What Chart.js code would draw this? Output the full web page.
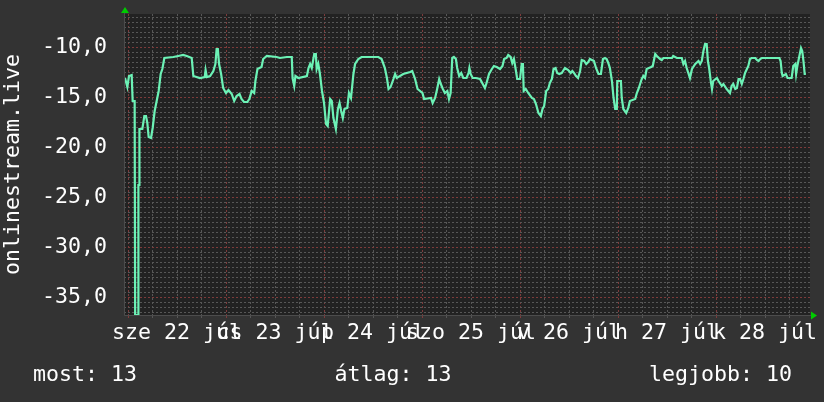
<!DOCTYPE html>
<html>
<head>
<meta charset="utf-8">
<script src="https://cdn.jsdelivr.net/npm/chart.js@4.4.1/dist/chart.umd.min.js"></script>
<style>
  html, body { margin: 0; padding: 0; background: #333333; }
  #wrap { position: relative; width: 824px; height: 402px; overflow: hidden; }
  #c { position: absolute; left: 0; top: 0; }
  #legend {
    position: absolute; left: 33px; right: 32px; top: 363px;
    display: flex; justify-content: space-between;
    font-family: "DejaVu Sans Mono", monospace; font-size: 21.6px; line-height: 22px;
    color: #ffffff; white-space: pre;
  }
</style>
</head>
<body>
<div id="wrap">
  <canvas id="c" width="824" height="402"></canvas>
  <div id="legend"><span id="l1"></span><span id="l2"></span><span id="l3"></span></div>
</div>
<script>
// ---- data (hours since 22 Jul 00:00, value) ----
const hours = [
-0.73,-0.16,0.24,0.90,1.14,1.63,1.75,2.45,2.55,2.75,2.8,3.51,4.0,4.41,4.73,5.06,5.63,6.04,6.53,7.02,7.51,8.0,8.41,8.9,11.1,12.3,13.5,14.4,15.6,16.0,17.6,18.8,19.0,19.3,20.1,20.9,21.4,21.7,22.0,22.3,22.8,23.3,24.0,24.6,25.4,26.0,26.6,27.3,27.8,28.4,29.2,29.7,30.3,30.9,31.2,31.7,32.7,33.1,34.0,36.4,37.2,38.9,40.1,40.3,40.7,41.0,41.7,43.8,44.2,44.6,45.0,45.6,46.0,46.2,46.6,47.0,47.5,48.0,48.5,48.9,49.5,49.9,50.3,50.9,51.4,51.8,52.2,52.6,53.0,53.7,54.1,54.6,55.2,55.6,56.4,57.2,61.3,62.1,62.9,63.4,63.8,64.3,65.0,65.4,65.8,67.4,69.1,69.6,70.3,70.9,72.1,72.5,74.2,74.6,75.2,75.7,76.2,76.6,77.1,77.6,78.2,78.6,79.0,79.4,79.8,80.3,80.6,81.1,81.6,82.1,82.9,83.4,83.6,83.9,84.4,85.2,86.2,87.4,87.8,88.4,89.1,89.6,90.3,91.1,91.7,92.1,92.7,93.1,93.7,94.1,94.5,95.0,95.3,96.0,96.4,96.7,96.9,97.4,98.0,98.9,99.4,99.9,100.5,101.1,101.5,101.9,102.4,102.9,103.3,103.8,104.2,104.7,105.1,105.6,106.2,107.0,107.8,108.4,108.8,109.2,109.7,110.2,110.7,111.1,111.7,112.2,112.7,113.1,114.1,114.6,115.2,115.8,116.3,116.8,117.2,117.6,118.0,118.5,118.9,119.3,119.7,119.8,120.7,120.9,121.3,122.0,122.5,122.9,124.2,124.6,125.0,125.4,125.8,126.2,126.6,127.0,128.1,128.5,129.1,129.5,130.3,130.7,131.1,133.2,133.5,134.4,135.6,136.0,136.4,136.8,137.2,137.6,138.1,138.9,139.7,140.1,140.5,140.9,141.3,141.7,142.0,142.3,142.7,143.0,143.3,144.2,144.6,145.4,145.8,146.6,147.4,147.8,148.2,148.7,149.1,149.5,149.9,150.3,150.7,151.1,151.9,152.3,152.7,153.6,154.0,154.4,154.8,155.2,159.5,159.8,160.1,160.3,161.1,161.5,162.5,162.9,163.4,163.6,163.9,164.4,164.8,165.1,165.4,165.7,166.0
];
const values = [
-13.1,-14.0,-12.9,-12.8,-15.4,-15.4,-36.8,-36.8,-23.8,-23.8,-18.2,-18.2,-16.9,-16.9,-17.6,-19.0,-19.1,-18.1,-16.4,-15.4,-14.4,-12.7,-12.2,-11.1,-11.0,-10.9,-10.8,-10.9,-11.1,-12.9,-13.1,-13.0,-12.3,-13.0,-12.9,-12.4,-11.7,-10.2,-10.2,-11.7,-12.7,-14.1,-14.6,-14.3,-14.7,-15.4,-14.9,-14.7,-15.2,-15.5,-15.5,-15.2,-14.4,-14.6,-13.4,-12.2,-12.0,-11.2,-10.9,-11.0,-11.1,-11.0,-11.0,-13.1,-13.9,-12.9,-13.1,-12.9,-12.1,-11.7,-12.1,-10.7,-10.7,-12.2,-11.7,-12.7,-14.4,-15.6,-17.7,-17.9,-15.2,-15.4,-17.1,-18.2,-16.2,-15.6,-16.4,-17.1,-16.2,-16.1,-14.6,-15.1,-12.7,-11.7,-11.2,-11.0,-11.0,-11.2,-12.1,-13.1,-14.2,-14.0,-13.2,-12.7,-13.1,-12.7,-12.5,-12.4,-13.2,-14.2,-14.6,-15.2,-15.1,-15.6,-15.1,-14.2,-13.2,-13.7,-14.2,-14.6,-14.4,-15.2,-14.6,-11.1,-11.0,-11.2,-12.1,-12.9,-12.6,-13.1,-13.1,-12.6,-12.1,-12.7,-13.1,-13.1,-13.2,-14.1,-13.6,-12.7,-12.2,-11.9,-12.0,-12.2,-11.9,-11.2,-11.1,-10.8,-11.0,-11.6,-11.2,-12.4,-13.2,-13.2,-11.7,-11.7,-14.4,-14.2,-14.6,-15.1,-15.2,-15.7,-16.6,-16.9,-16.2,-15.9,-14.4,-14.2,-13.6,-13.2,-12.2,-12.1,-12.6,-12.7,-12.6,-12.1,-12.3,-12.6,-12.4,-12.6,-12.9,-13.1,-12.4,-11.3,-11.4,-11.7,-11.5,-11.2,-11.4,-12.1,-12.7,-12.7,-11.2,-11.1,-11.2,-11.6,-12.1,-13.4,-15.1,-16.2,-16.2,-13.4,-13.4,-15.1,-16.2,-16.6,-16.1,-15.4,-15.2,-14.6,-14.2,-13.7,-13.2,-12.9,-13.1,-12.2,-12.0,-11.9,-10.7,-10.9,-11.2,-11.3,-11.1,-11.1,-10.9,-11.1,-11.1,-11.7,-11.4,-12.1,-12.6,-13.1,-12.2,-11.7,-11.4,-11.7,-11.4,-10.4,-9.7,-9.7,-11.4,-12.1,-13.4,-14.2,-13.4,-13.1,-13.4,-13.9,-13.7,-14.2,-14.6,-13.9,-13.7,-14.2,-14.1,-13.2,-13.2,-13.7,-13.2,-12.6,-11.9,-11.2,-11.1,-11.1,-11.3,-11.4,-11.2,-11.1,-11.1,-11.4,-12.6,-12.9,-12.7,-13.1,-13.1,-11.9,-11.7,-12.7,-11.9,-10.9,-10.1,-10.4,-11.4,-12.7,-12.7
];
// ---- tick labels ----
const dayLabels = ['sze 22 júl', 'cs 23 júl', 'p 24 júl', 'szo 25 júl', 'v 26 júl', 'h 27 júl', 'k 28 júl'];
const yLabelValues = [-35, -30, -25, -20, -15, -10];
const yAxisTitle = 'onlinestream.live';
const legendItems = ['most: 13', 'átlag: 13', 'legjobb: 10'];

document.getElementById('l1').textContent = legendItems[0];
document.getElementById('l2').textContent = legendItems[1];
document.getElementById('l3').textContent = legendItems[2];

const FONT = { family: '"DejaVu Sans Mono", monospace', size: 21.6 };
const YFONT = { family: '"DejaVu Sans Mono", monospace', size: 21.6, lineHeight: 0.01 };
const GRID_MINOR = '#575757';
const GRID_MAJOR = '#7e3b3b';

const bgPlugin = {
  id: 'bg',
  beforeDraw(chart) {
    const { ctx, chartArea: a } = chart;
    ctx.save();
    ctx.fillStyle = '#333333';
    ctx.fillRect(0, 0, chart.width, chart.height);
    ctx.fillStyle = '#222222';
    ctx.fillRect(a.left, a.top, a.right - a.left, a.bottom - a.top);
    ctx.restore();
  },
  afterDraw(chart) {
    const { ctx, chartArea: a } = chart;
    ctx.save();
    ctx.strokeStyle = '#4c4c4c';
    ctx.lineWidth = 1;
    ctx.beginPath();
    ctx.moveTo(a.left + 0.5, a.top - 2);
    ctx.lineTo(a.left + 0.5, a.bottom + 0.5);
    ctx.lineTo(a.right + 2, a.bottom + 0.5);
    ctx.stroke();
    ctx.fillStyle = '#00cc00';
    ctx.beginPath();
    ctx.moveTo(a.left + 1, a.top - 7);
    ctx.lineTo(a.left - 3, a.top - 1);
    ctx.lineTo(a.left + 5, a.top - 1);
    ctx.closePath();
    ctx.fill();
    ctx.beginPath();
    ctx.moveTo(a.right + 7, a.bottom + 0.5);
    ctx.lineTo(a.right + 1, a.bottom - 3.5);
    ctx.lineTo(a.right + 1, a.bottom + 4.5);
    ctx.closePath();
    ctx.fill();
    ctx.restore();
  }
};

const xTickValues = [];
for (let h = 0; h <= 162; h += 6) xTickValues.push(h);
const yTickValues = [];
for (let v = -36.5; v <= -7; v += 0.5) yTickValues.push(Math.round(v * 10) / 10);

new Chart(document.getElementById('c'), {
  type: 'line',
  data: {
    datasets: [{
      data: hours.map((h, i) => ({ x: h, y: values[i] })),
      borderColor: '#6cf2b6',
      borderWidth: 2.2,
      pointRadius: 0,
      tension: 0,
      fill: false
    }]
  },
  options: {
    responsive: false,
    animation: false,
    devicePixelRatio: 1,
    layout: { padding: { left: 0, right: 14, top: 14, bottom: 0 } },
    plugins: { legend: { display: false }, tooltip: { enabled: false } },
    scales: {
      x: {
        type: 'linear',
        min: -0.98,
        max: 167.0,
        afterBuildTicks(scale) { scale.ticks = xTickValues.map(v => ({ value: v })); },
        afterFit(scale) { scale.height = 87; },
        grid: {
          color: (c) => (c.tick && c.tick.value % 24 === 0) ? GRID_MAJOR : GRID_MINOR,
          lineWidth: 1,
          drawTicks: true,
          tickLength: 3
        },
        border: { display: false, dash: [2, 2] },
        ticks: {
          autoSkip: false,
          maxRotation: 0,
          minRotation: 0,
          color: '#ffffff',
          font: FONT,
          padding: 2,
          callback(v) {
            if ((v - 12) % 24 === 0) return dayLabels[(v - 12) / 24];
            return '';
          }
        }
      },
      y: {
        type: 'linear',
        min: -36.8,
        max: -6.7,
        afterBuildTicks(scale) { scale.ticks = yTickValues.map(v => ({ value: v })); },
        afterFit(scale) { scale.width = 124; scale.paddingTop = 0; scale.paddingBottom = 0; },
        grid: {
          color: (c) => (c.tick && yLabelValues.includes(c.tick.value)) ? GRID_MAJOR : GRID_MINOR,
          lineWidth: 1,
          drawTicks: false
        },
        border: { display: false, dash: [2, 2] },
        title: {
          display: true,
          text: yAxisTitle,
          color: '#ffffff',
          font: FONT,
          padding: { top: 0, bottom: 0 }
        },
        ticks: {
          autoSkip: false,
          color: '#ffffff',
          font: YFONT,
          padding: 17,
          callback(v) {
            if (yLabelValues.includes(v)) return v.toFixed(1).replace('.', ',');
            return '';
          }
        }
      }
    }
  },
  plugins: [bgPlugin]
});
</script>
</body>
</html>
